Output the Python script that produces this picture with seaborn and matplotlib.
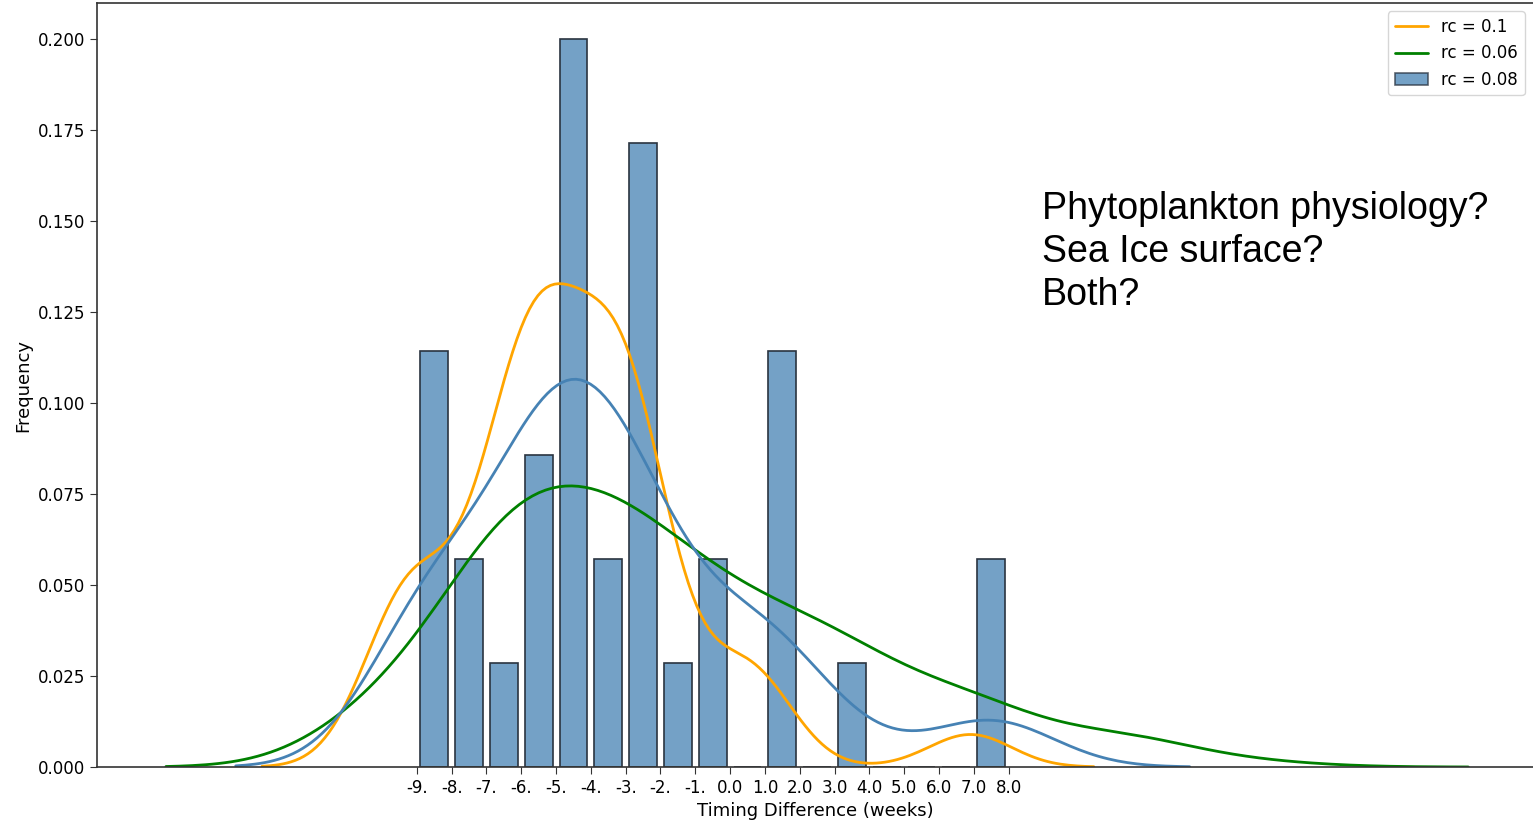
import numpy as np
import matplotlib
matplotlib.use("Agg")
import matplotlib.pyplot as plt
import seaborn as sns
from matplotlib.lines import Line2D
from matplotlib.patches import Patch

# rc = 0.08: timing differences (weeks) and how often each occurs (histogram bars)
timing_values = [-9, -8, -7, -6, -5, -4, -3, -2, -1, 1, 3, 7, 8]
timing_counts = [4, 2, 1, 3, 7, 2, 6, 1, 2, 4, 1, 1, 1]

# rc = 0.1: timing differences and estimated counts behind the orange curve
orange_values = [-10, -9, -8, -7, -6, -5, -4, -3, -2, 0, 1, 6, 7]
orange_counts = [1.61, 3.33, 0.69, 2.56, 5.84, 5.20, 3.33, 6.54, 2.45, 1.56, 1.47, 0.12, 0.83]
orange_bw = 1.15

# rc = 0.06: timing differences and estimated counts behind the green curve
green_values = [-10, -7, -6, -5, -4, -3, -2, -1, 0, 1, 2, 3, 4, 6, 7, 8, 11, 12, 15]
green_counts = [2.19, 5.07, 2.81, 1.66, 3.77, 2.97, 1.66, 2.19, 2.06, 0.98, 1.30, 2.23,
                1.26, 0.47, 2.02, 0.21, 0.97, 0.37, 0.21]
green_bw = 2.07

bin_edges = [-9, -8, -7, -6, -5, -4, -3, -2, -1, 0, 1, 2, 3, 4, 5, 6, 7, 8]
tick_labels = ["-9.", "-8.", "-7.", "-6.", "-5.", "-4.", "-3.", "-2.", "-1.",
               "0.0", "1.0", "2.0", "3.0", "4.0", "5.0", "6.0", "7.0", "8.0"]
y_ticks = [0.0, 0.025, 0.05, 0.075, 0.1, 0.125, 0.15, 0.175, 0.2]

note = "Phytoplankton physiology?\nSea Ice surface?\nBoth?"

sns.set_style("ticks")
plt.rcParams["font.family"] = ["DejaVu Sans"]
plt.rcParams["text.color"] = "black"
plt.rcParams["axes.labelcolor"] = "black"
plt.rcParams["xtick.color"] = "black"
plt.rcParams["ytick.color"] = "black"

weeks = np.repeat(timing_values, timing_counts)

# bandwidth like the old distplot (statsmodels scott rule, robust spread)
q75, q25 = np.percentile(weeks, [75, 25])
spread = min(np.std(weeks, ddof=1), (q75 - q25) / 1.349)
bw = 1.059 * spread * len(weeks) ** (-0.2)
bw_factor = bw / np.std(weeks, ddof=1)


def weighted_factor(values, counts, kernel_bw):
    sd = np.sqrt(np.cov(values, aweights=counts))
    return kernel_bw / sd


def curve_range(values, kernel_bw):
    # support of a distplot kde: data range widened by 3 bandwidths
    return (min(values) - 3 * kernel_bw, max(values) + 3 * kernel_bw)


fig = plt.figure(figsize=(15.33, 8.25), dpi=100)
ax = fig.add_axes([0.0633, 0.0703, 0.9367, 0.926])

sns.histplot(x=weeks, bins=bin_edges, stat="density", shrink=0.8,
             color="steelblue", alpha=0.75, edgecolor="#2a3440", linewidth=1.2, ax=ax)
sns.kdeplot(x=orange_values, weights=orange_counts,
            bw_method=weighted_factor(orange_values, orange_counts, orange_bw),
            cut=10, clip=curve_range(orange_values, orange_bw),
            color="orange", linewidth=2, ax=ax)
sns.kdeplot(x=green_values, weights=green_counts,
            bw_method=weighted_factor(green_values, green_counts, green_bw),
            cut=10, clip=curve_range(green_values, green_bw),
            color="green", linewidth=2, ax=ax)
sns.kdeplot(x=weeks, bw_method=bw_factor, color="steelblue", linewidth=2, ax=ax)

ax.set_xlim(-18.19, 23.07)
ax.set_ylim(0, 0.21)
ax.set_xticks(bin_edges)
ax.set_xticklabels(tick_labels)
ax.set_yticks(y_ticks)
ax.set_yticklabels([f"{v:.3f}" for v in y_ticks])
ax.tick_params(labelsize=12, length=5, color="#333333")
ax.set_xlabel("Timing Difference (weeks)", fontsize=13)
ax.set_ylabel("Frequency", fontsize=13)
for side in ["left", "bottom", "top"]:
    ax.spines[side].set_color("#333333")
    ax.spines[side].set_linewidth(1.2)
ax.spines["right"].set_visible(False)

ax.text(8.97, 0.1582, note, fontsize=27, family=["Liberation Sans"], color="black",
        va="top", ha="left", linespacing=1.24)

handles = [Line2D([], [], color="orange", linewidth=2),
           Line2D([], [], color="green", linewidth=2),
           Patch(facecolor="steelblue", alpha=0.75, edgecolor="#2a3440", linewidth=1.2)]
ax.legend(handles, ["rc = 0.1", "rc = 0.06", "rc = 0.08"], loc="upper right",
          fontsize=12, frameon=True)

fig.savefig("out.png", dpi=100)
